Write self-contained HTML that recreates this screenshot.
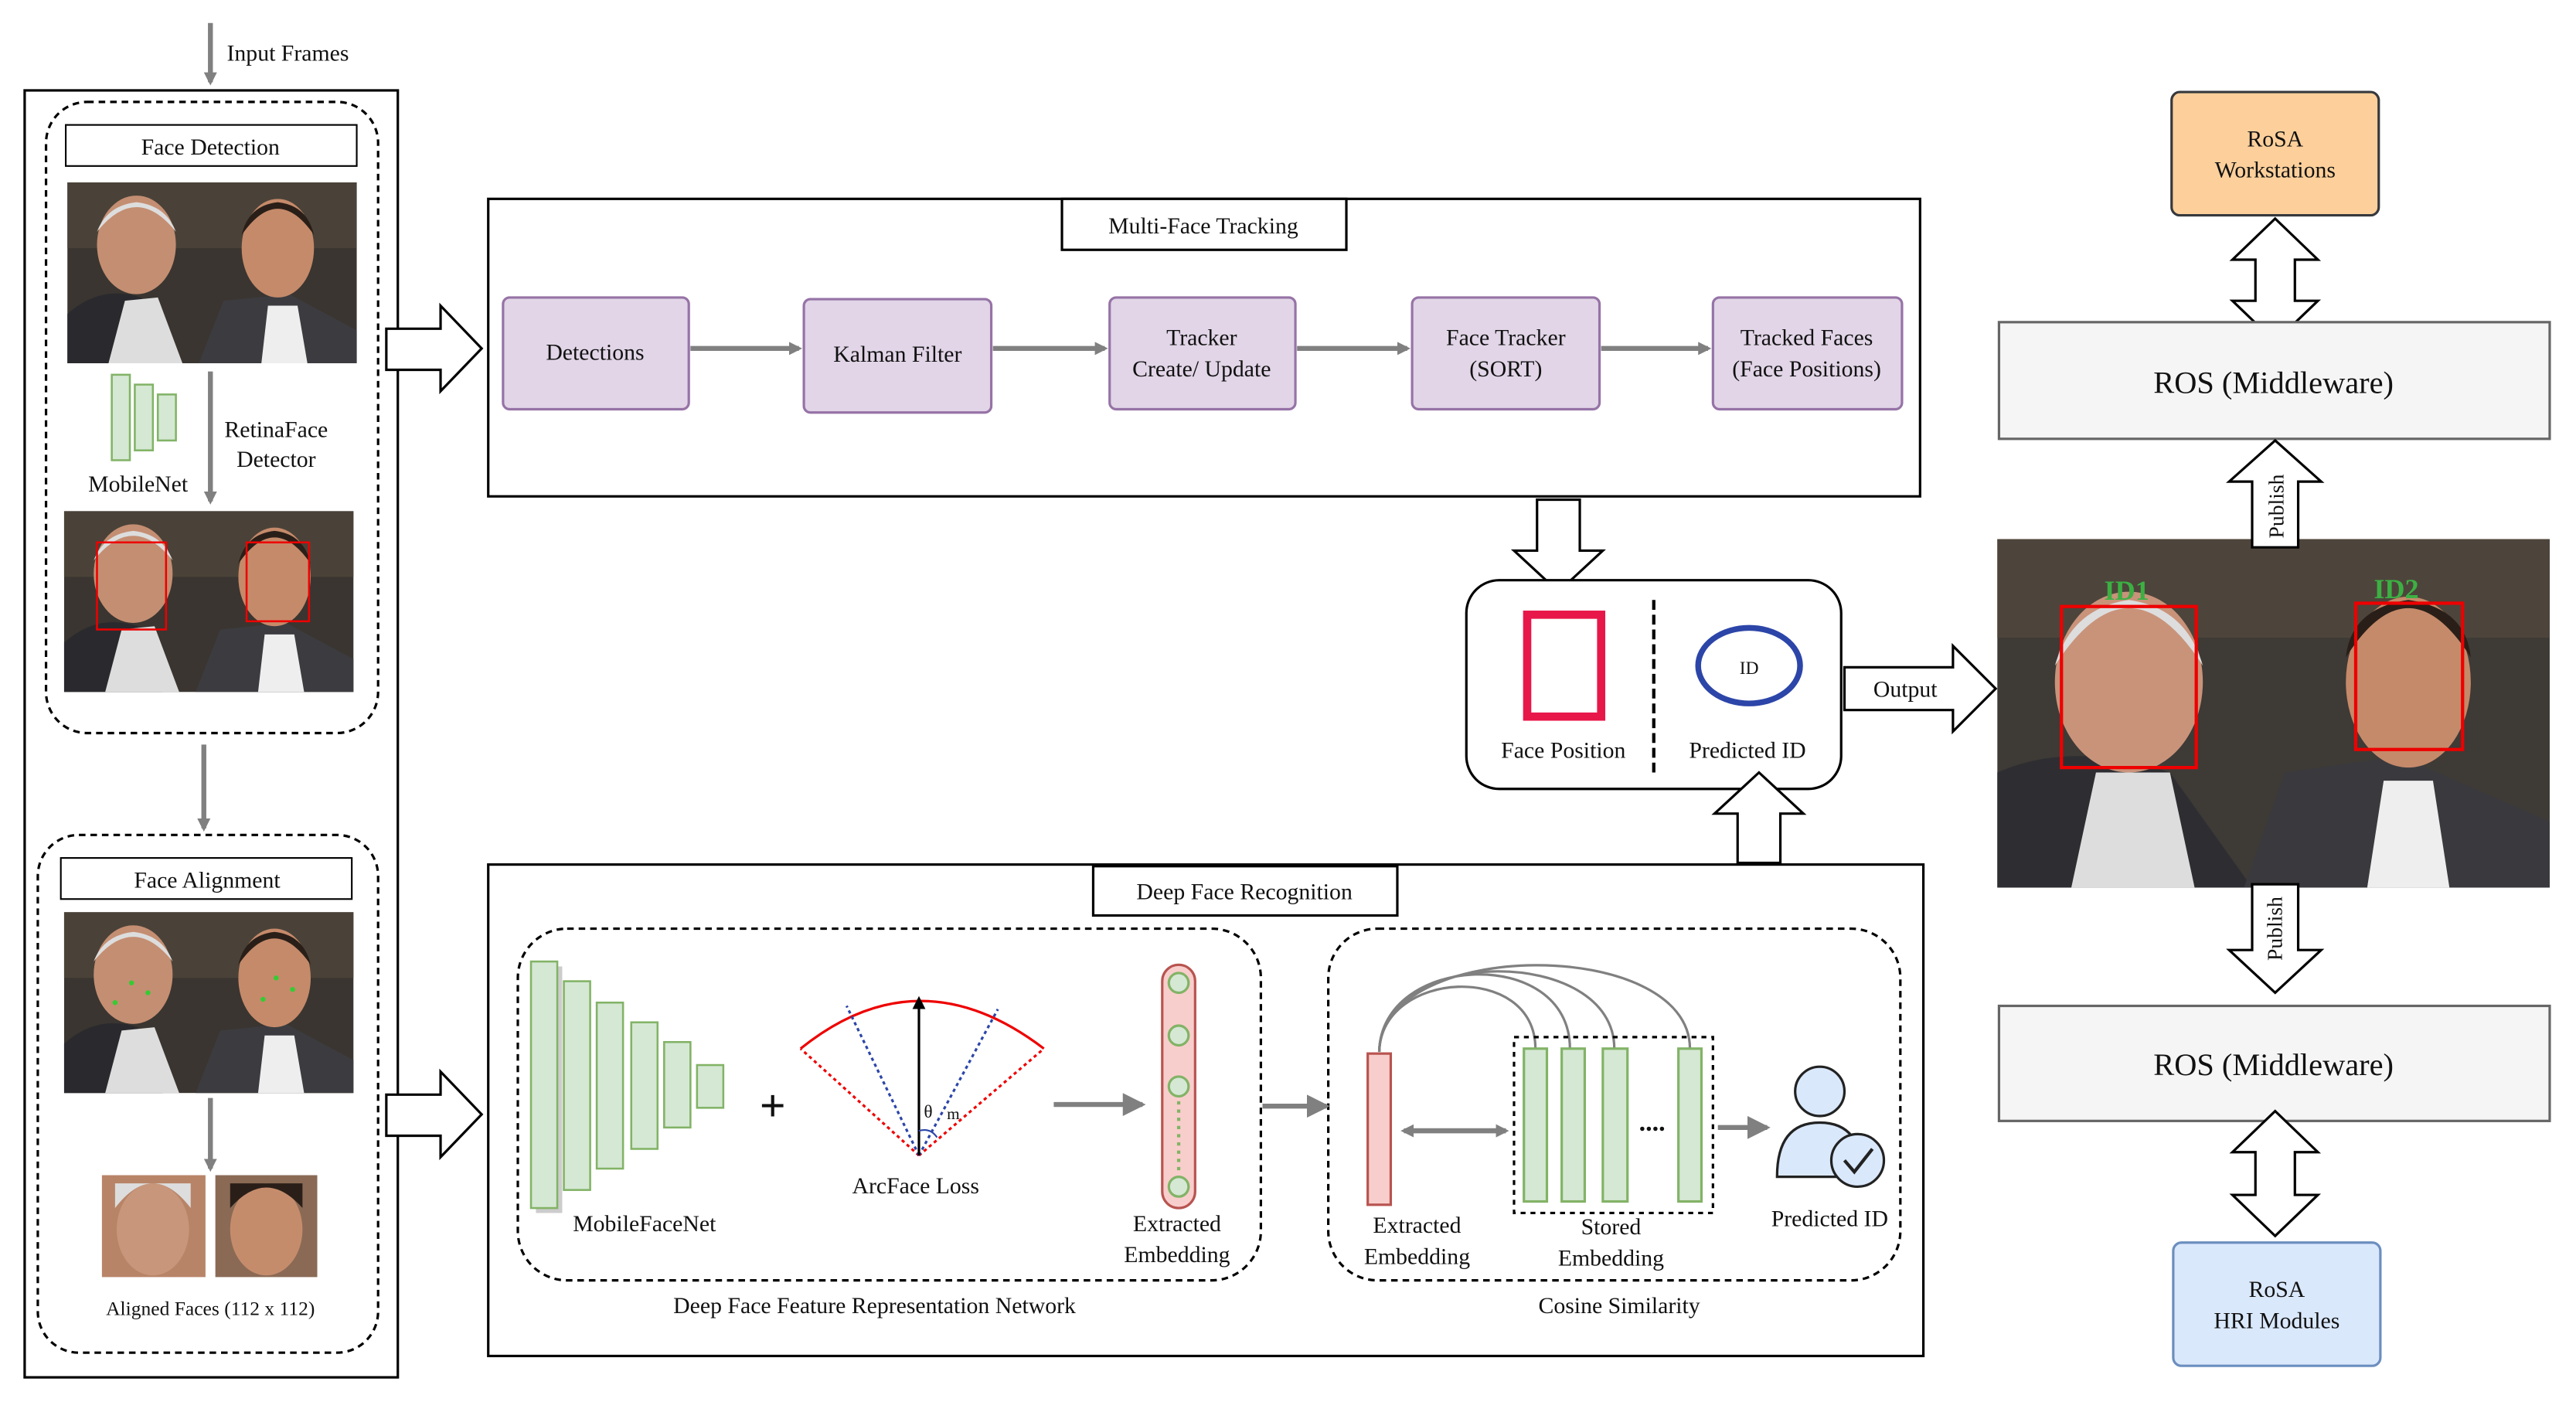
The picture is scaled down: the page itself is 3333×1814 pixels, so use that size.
<!DOCTYPE html>
<html><head><meta charset="utf-8"><style>
html,body{margin:0;padding:0;background:#fff}
svg{display:block}
text{font-family:"Liberation Serif",serif;fill:#111}
</style></head><body>
<svg width="3333" height="1814" viewBox="0 0 1567 853" preserveAspectRatio="none" xmlns="http://www.w3.org/2000/svg">
<defs>
<marker id="ah" markerWidth="8" markerHeight="8" refX="6" refY="4" orient="auto" markerUnits="userSpaceOnUse"><path d="M0,0 L8,4 L0,8 z" fill="#808080"/></marker>
<marker id="ah2" markerWidth="14" markerHeight="14" refX="12" refY="7" orient="auto" markerUnits="userSpaceOnUse"><path d="M0,0 L14,7 L0,14 z" fill="#808080"/></marker>
<marker id="ahk" markerWidth="8" markerHeight="8" refX="6" refY="4" orient="auto" markerUnits="userSpaceOnUse"><path d="M0,0 L8,4 L0,8 z" fill="#000"/></marker>
<g id="photo">
<rect width="176" height="110" fill="#3a3530"/>
<rect x="0" y="0" width="176" height="40" fill="#4a4238"/>
<path d="M0,110 L0,80 Q20,62 45,70 L60,110 z" fill="#2a2a2e"/>
<path d="M25,110 L35,72 L55,70 L70,110 z" fill="#ddd"/>
<ellipse cx="42" cy="38" rx="24" ry="30" fill="#c48e72"/>
<path d="M18,30 Q42,0 66,30 Q60,14 42,12 Q24,14 18,30z" fill="#ddd"/>
<path d="M80,110 L95,72 L135,68 L176,90 L176,110z" fill="#3c3c40"/>
<path d="M118,110 L122,75 L140,75 L146,110z" fill="#eee"/>
<ellipse cx="128" cy="40" rx="22" ry="30" fill="#c58a6a"/>
<path d="M106,32 Q128,0 150,32 Q146,14 128,12 Q110,14 106,32z" fill="#2a1f18"/>
</g>
</defs>

<line x1="128" y1="14" x2="128" y2="50" stroke="#808080" stroke-width="3" marker-end="url(#ah)"/>
<text x="138" y="37" font-size="14">Input Frames</text>

<rect x="15" y="55" width="227" height="783" fill="none" stroke="#000" stroke-width="1.5"/>
<rect x="28" y="62" width="202" height="384" rx="25" fill="none" stroke="#000" stroke-width="1.5" stroke-dasharray="4,3"/>
<rect x="40" y="76" width="177" height="25" fill="#fff" stroke="#000"/>
<text x="128" y="94" font-size="14" text-anchor="middle">Face Detection</text>
<use href="#photo" x="41" y="111"/>
<g fill="#d5e8d4" stroke="#82b366" stroke-width="1.2">
<rect x="68" y="228" width="11" height="52"/><rect x="82" y="234" width="11" height="40"/><rect x="96" y="240" width="11" height="28"/></g>
<text x="84" y="299" font-size="14" text-anchor="middle">MobileNet</text>
<line x1="128" y1="226" x2="128" y2="305" stroke="#808080" stroke-width="3" marker-end="url(#ah)"/>
<text x="168" y="266" font-size="14" text-anchor="middle">RetinaFace</text>
<text x="168" y="284" font-size="14" text-anchor="middle">Detector</text>
<use href="#photo" x="39" y="311"/>
<rect x="59" y="330" width="42" height="53" fill="none" stroke="#e00" stroke-width="1.2"/>
<rect x="150" y="330" width="38" height="48" fill="none" stroke="#e00" stroke-width="1.2"/>

<line x1="124" y1="453" x2="124" y2="504" stroke="#808080" stroke-width="3" marker-end="url(#ah)"/>

<rect x="23" y="508" width="207" height="315" rx="25" fill="none" stroke="#000" stroke-width="1.5" stroke-dasharray="4,3"/>
<rect x="37" y="522" width="177" height="25" fill="#fff" stroke="#000"/>
<text x="126" y="540" font-size="14" text-anchor="middle">Face Alignment</text>
<use href="#photo" x="39" y="555"/>
<g fill="#3c3" ><circle cx="80" cy="598" r="1.5"/><circle cx="90" cy="604" r="1.5"/><circle cx="70" cy="610" r="1.5"/><circle cx="168" cy="595" r="1.5"/><circle cx="178" cy="602" r="1.5"/><circle cx="160" cy="608" r="1.5"/></g>
<line x1="128" y1="668" x2="128" y2="711" stroke="#808080" stroke-width="3" marker-end="url(#ah)"/>
<rect x="62" y="715" width="63" height="62" fill="#b88468"/><ellipse cx="93" cy="748" rx="22" ry="28" fill="#c8967a"/><path d="M70,735 Q93,705 116,735 L116,720 L70,720z" fill="#ddd"/>
<rect x="131" y="715" width="62" height="62" fill="#8a6a55"/><ellipse cx="162" cy="748" rx="22" ry="28" fill="#c58c6c"/><path d="M140,735 Q162,710 184,735 L184,720 L140,720z" fill="#2a1f18"/>
<text x="128" y="800" font-size="12" text-anchor="middle">Aligned Faces  (112 x 112)</text>

<path d="M235,200 L268,200 L268,186 L293,212 L268,238 L268,225 L235,225 z" fill="#fff" stroke="#000" stroke-width="1.5"/>
<path d="M235,666 L268,666 L268,652 L293,678 L268,704 L268,691 L235,691 z" fill="#fff" stroke="#000" stroke-width="1.5"/>

<rect x="297" y="121" width="871" height="181" fill="none" stroke="#000" stroke-width="1.5"/>
<rect x="646" y="121" width="173" height="31" fill="#fff" stroke="#000" stroke-width="1.5"/>
<text x="732" y="142" font-size="14" text-anchor="middle">Multi-Face Tracking</text>
<g fill="#e1d5e7" stroke="#9673a6" stroke-width="1.5">
<rect x="306" y="181" width="113" height="68" rx="4"/>
<rect x="489" y="182" width="114" height="69" rx="4"/>
<rect x="675" y="181" width="113" height="68" rx="4"/>
<rect x="859" y="181" width="114" height="68" rx="4"/>
<rect x="1042" y="181" width="115" height="68" rx="4"/>
</g>
<text x="362" y="219" font-size="14" text-anchor="middle">Detections</text>
<text x="546" y="220" font-size="14" text-anchor="middle">Kalman Filter</text>
<text x="731" y="210" font-size="14" text-anchor="middle">Tracker</text>
<text x="731" y="229" font-size="14" text-anchor="middle">Create/ Update</text>
<text x="916" y="210" font-size="14" text-anchor="middle">Face Tracker</text>
<text x="916" y="229" font-size="14" text-anchor="middle">(SORT)</text>
<text x="1099" y="210" font-size="14" text-anchor="middle">Tracked Faces</text>
<text x="1099" y="229" font-size="14" text-anchor="middle">(Face Positions)</text>
<g stroke="#808080" stroke-width="3">
<line x1="420" y1="212" x2="486" y2="212" marker-end="url(#ah)"/>
<line x1="604" y1="212" x2="672" y2="212" marker-end="url(#ah)"/>
<line x1="789" y1="212" x2="856" y2="212" marker-end="url(#ah)"/>
<line x1="974" y1="212" x2="1039" y2="212" marker-end="url(#ah)"/>
</g>

<path d="M935,304 L961,304 L961,335 L975,335 L948,360 L921,335 L935,335 z" fill="#fff" stroke="#000" stroke-width="1.5"/>

<rect x="892" y="353" width="228" height="127" rx="20" fill="#fff" stroke="#000" stroke-width="1.5"/>
<rect x="929" y="374" width="45" height="62" fill="none" stroke="#e8174a" stroke-width="5"/>
<line x1="1006" y1="365" x2="1006" y2="470" stroke="#000" stroke-width="2" stroke-dasharray="6,3"/>
<ellipse cx="1064" cy="405" rx="31" ry="23" fill="none" stroke="#2c45a8" stroke-width="3.5"/>
<text x="1064" y="410" font-size="11" text-anchor="middle">ID</text>
<text x="951" y="461" font-size="14" text-anchor="middle">Face Position</text>
<text x="1063" y="461" font-size="14" text-anchor="middle">Predicted ID</text>

<path d="M1057,525 L1083,525 L1083,495 L1097,495 L1070,470 L1043,495 L1057,495 z" fill="#fff" stroke="#000" stroke-width="1.5"/>

<path d="M1122,406 L1188,406 L1188,393 L1214,419 L1188,445 L1188,432 L1122,432 z" fill="#fff" stroke="#000" stroke-width="1.5"/>
<text x="1159" y="424" font-size="14" text-anchor="middle">Output</text>

<rect x="1215" y="328" width="336" height="212" fill="#3e3a36"/>
<rect x="1215" y="328" width="336" height="60" fill="#4d453b"/>
<path d="M1215,540 L1215,470 Q1260,450 1320,470 L1370,540z" fill="#2e2e32"/>
<path d="M1260,540 L1275,470 L1320,470 L1335,540z" fill="#ddd"/>
<ellipse cx="1295" cy="415" rx="45" ry="55" fill="#c9937a"/>
<path d="M1250,405 Q1295,335 1340,405 Q1330,370 1295,365 Q1260,370 1250,405z" fill="#ddd"/>
<path d="M1365,540 L1390,470 L1460,460 L1551,500 L1551,540z" fill="#3a3a3e"/>
<path d="M1440,540 L1450,475 L1480,475 L1490,540z" fill="#eee"/>
<ellipse cx="1465" cy="415" rx="38" ry="52" fill="#c58a6a"/>
<path d="M1427,400 Q1465,340 1503,400 Q1500,370 1465,365 Q1430,370 1427,400z" fill="#2a1f18"/>
<rect x="1254" y="369" width="82" height="98" fill="none" stroke="#e00" stroke-width="2"/>
<rect x="1433" y="367" width="65" height="89" fill="none" stroke="#e00" stroke-width="2"/>
<text x="1280" y="365" font-size="17" font-weight="bold" style="fill:#3cb043">ID1</text>
<text x="1444" y="364" font-size="17" font-weight="bold" style="fill:#3cb043">ID2</text>

<rect x="1321" y="56" width="126" height="75" rx="5" fill="#fdd09b" stroke="#36393d" stroke-width="1.5"/>
<text x="1384" y="89" font-size="14" text-anchor="middle">RoSA</text>
<text x="1384" y="108" font-size="14" text-anchor="middle">Workstations</text>
<path d="M1384,133 L1410,158 L1396,158 L1396,183 L1410,183 L1384,208 L1358,183 L1372,183 L1372,158 L1358,158 z" fill="#fff" stroke="#000" stroke-width="1.5"/>
<rect x="1216" y="196" width="335" height="71" fill="#f5f5f5" stroke="#666" stroke-width="1.5"/>
<text x="1383" y="239" font-size="19" text-anchor="middle">ROS (Middleware)</text>
<path d="M1370,333 L1398,333 L1398,293 L1412,293 L1384,268 L1356,293 L1370,293 z" fill="#fff" stroke="#000" stroke-width="1.5"/>
<text x="0" y="0" font-size="13" text-anchor="middle" transform="translate(1389,308) rotate(-90)">Publish</text>
<path d="M1370,538 L1398,538 L1398,578 L1412,578 L1384,604 L1356,578 L1370,578 z" fill="#fff" stroke="#000" stroke-width="1.5"/>
<text x="0" y="0" font-size="13" text-anchor="middle" transform="translate(1388,565) rotate(-90)">Publish</text>
<rect x="1216" y="612" width="335" height="70" fill="#f5f5f5" stroke="#666" stroke-width="1.5"/>
<text x="1383" y="654" font-size="19" text-anchor="middle">ROS (Middleware)</text>
<path d="M1384,676 L1410,701 L1396,701 L1396,727 L1410,727 L1384,752 L1358,727 L1372,727 L1372,701 L1358,701 z" fill="#fff" stroke="#000" stroke-width="1.5"/>
<rect x="1322" y="756" width="126" height="75" rx="5" fill="#dae8fc" stroke="#6c8ebf" stroke-width="1.5"/>
<text x="1385" y="789" font-size="14" text-anchor="middle">RoSA</text>
<text x="1385" y="808" font-size="14" text-anchor="middle">HRI Modules</text>

<rect x="297" y="526" width="873" height="299" fill="none" stroke="#000" stroke-width="1.5"/>
<rect x="665" y="527" width="185" height="30" fill="#fff" stroke="#000" stroke-width="1.5"/>
<text x="757" y="547" font-size="14" text-anchor="middle">Deep Face Recognition</text>
<rect x="315" y="565" width="452" height="214" rx="30" fill="none" stroke="#000" stroke-width="1.5" stroke-dasharray="4,3"/>
<rect x="808" y="565" width="348" height="214" rx="30" fill="none" stroke="#000" stroke-width="1.5" stroke-dasharray="4,3"/>
<text x="532" y="799" font-size="14" text-anchor="middle">Deep Face Feature Representation Network</text>
<text x="985" y="799" font-size="14" text-anchor="middle">Cosine Similarity</text>

<g fill="#d5e8d4" stroke="#82b366" stroke-width="1.2">
<rect x="326" y="588" width="16" height="150" fill="#ccc" stroke="none"/>
<rect x="323" y="585" width="16" height="150"/>
<rect x="343" y="597" width="16" height="127"/>
<rect x="363" y="610" width="16" height="101"/>
<rect x="384" y="622" width="16" height="77"/>
<rect x="404" y="634" width="16" height="52"/>
<rect x="424" y="648" width="16" height="26"/>
</g>
<text x="392" y="749" font-size="14" text-anchor="middle">MobileFaceNet</text>
<text x="470" y="682" font-size="28" font-weight="bold" text-anchor="middle">+</text>

<path d="M487,638 Q559,580 635,638" fill="none" stroke="#e00" stroke-width="1.5"/>
<line x1="559" y1="703" x2="487" y2="638" stroke="#e00" stroke-width="1.5" stroke-dasharray="2,2"/>
<line x1="559" y1="703" x2="635" y2="638" stroke="#e00" stroke-width="1.5" stroke-dasharray="2,2"/>
<line x1="559" y1="703" x2="515" y2="612" stroke="#2c45a8" stroke-width="1.5" stroke-dasharray="2,2"/>
<line x1="559" y1="703" x2="607" y2="614" stroke="#2c45a8" stroke-width="1.5" stroke-dasharray="2,2"/>
<line x1="559" y1="703" x2="559" y2="608" stroke="#000" stroke-width="1.5" marker-end="url(#ahk)"/>
<path d="M559,688 Q566,686 570,692" fill="none" stroke="#2c45a8"/>
<text x="562" y="680" font-size="11">θ</text><text x="576" y="681" font-size="10">m</text>
<text x="557" y="726" font-size="14" text-anchor="middle">ArcFace Loss</text>
<line x1="641" y1="672" x2="695" y2="672" stroke="#808080" stroke-width="3" marker-end="url(#ah2)"/>
<rect x="707" y="587" width="20" height="148" rx="10" fill="#f8cecc" stroke="#b85450" stroke-width="1.5"/>
<g fill="#d5e8d4" stroke="#82b366" stroke-width="1.5"><circle cx="717" cy="598" r="6"/><circle cx="717" cy="630" r="6"/><circle cx="717" cy="661" r="6"/><circle cx="717" cy="722" r="6"/></g>
<line x1="717" y1="670" x2="717" y2="714" stroke="#82b366" stroke-width="2" stroke-dasharray="2,3"/>
<text x="716" y="749" font-size="14" text-anchor="middle">Extracted</text>
<text x="716" y="768" font-size="14" text-anchor="middle">Embedding</text>
<line x1="768" y1="673" x2="807" y2="673" stroke="#808080" stroke-width="3" marker-end="url(#ah2)"/>

<path d="M839,640 C840,580 955,575 955,638" fill="none" stroke="#808080" stroke-width="1.5"/>
<path d="M839,640 C840,570 1028,570 1028,638" fill="none" stroke="#808080" stroke-width="1.5"/>
<path d="M839,640 C840,590 934,585 934,638" fill="none" stroke="#808080" stroke-width="1.5"/>
<path d="M839,640 C840,575 982,575 982,638" fill="none" stroke="#808080" stroke-width="1.5"/>
<rect x="832" y="641" width="14" height="92" fill="#f8cecc" stroke="#b85450" stroke-width="1.5"/>
<line x1="856" y1="688" x2="916" y2="688" stroke="#808080" stroke-width="3" marker-end="url(#ah)"/>
<line x1="916" y1="688" x2="854" y2="688" stroke="#808080" stroke-width="3" marker-end="url(#ah)"/>
<rect x="921" y="631" width="121" height="107" fill="none" stroke="#000" stroke-width="1.5" stroke-dasharray="3,3"/>
<g fill="#d5e8d4" stroke="#82b366" stroke-width="1.5">
<rect x="927" y="638" width="14" height="93"/><rect x="950" y="638" width="14" height="93"/><rect x="975" y="638" width="15" height="93"/><rect x="1021" y="638" width="14" height="93"/></g>
<text x="1005" y="688" font-size="16" text-anchor="middle" font-weight="bold">....</text>
<text x="862" y="750" font-size="14" text-anchor="middle">Extracted</text>
<text x="862" y="769" font-size="14" text-anchor="middle">Embedding</text>
<text x="980" y="751" font-size="14" text-anchor="middle">Stored</text>
<text x="980" y="770" font-size="14" text-anchor="middle">Embedding</text>
<line x1="1045" y1="686" x2="1075" y2="686" stroke="#808080" stroke-width="3" marker-end="url(#ah2)"/>
<circle cx="1107" cy="664" r="15" fill="#dae8fc" stroke="#222" stroke-width="1.5"/>
<path d="M1081,716 Q1081,683 1107,683 Q1133,683 1133,716 z" fill="#dae8fc" stroke="#222" stroke-width="1.5"/>
<circle cx="1130" cy="706" r="16" fill="#dae8fc" stroke="#222" stroke-width="1.5"/>
<path d="M1122,706 L1128,713 L1139,699" fill="none" stroke="#222" stroke-width="2"/>
<text x="1113" y="746" font-size="14" text-anchor="middle">Predicted ID</text>
</svg>
</body></html>
